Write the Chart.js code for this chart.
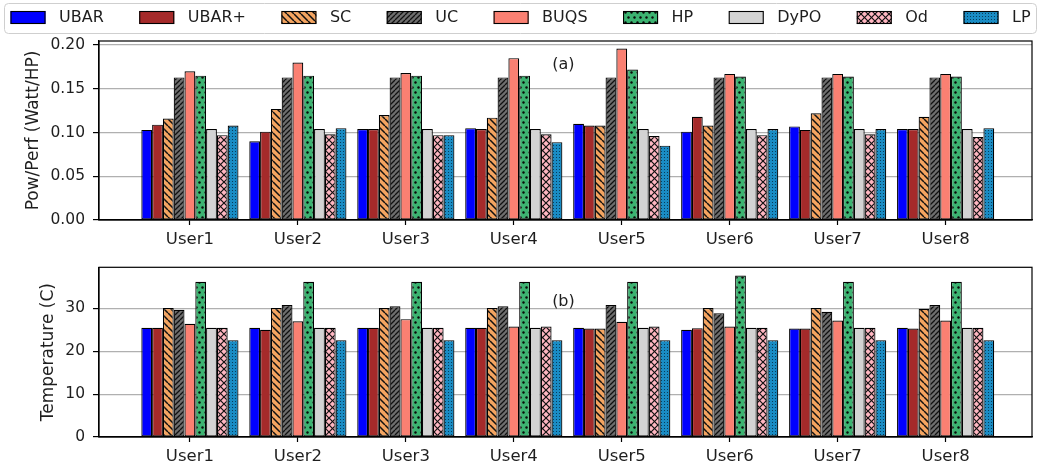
<!DOCTYPE html>
<html>
<head>
<meta charset="utf-8">
<script src="https://cdn.jsdelivr.net/npm/chart.js@4.4.1/dist/chart.umd.min.js"></script>
<style>
  html, body { margin: 0; padding: 0; background: #ffffff; }
  #wrap { position: relative; width: 1041px; height: 469px; overflow: hidden; }
  #perfChart { position: absolute; left: 0; top: 0; }
  #tempChart { position: absolute; left: 0; top: 250px; }
</style>
</head>
<body>
<div id="wrap">
  <canvas id="perfChart" width="1041" height="250"></canvas>
  <canvas id="tempChart" width="1041" height="219"></canvas>
</div>
<script>
// Categories and method names
const users = ['User1', 'User2', 'User3', 'User4', 'User5', 'User6', 'User7', 'User8'];
const methods = ['UBAR', 'UBAR+', 'SC', 'UC', 'BUQS', 'HP', 'DyPO', 'Od', 'LP'];

// (a) Power / performance ratio (Watt/HP)
const perfUBAR  = [0.103, 0.090, 0.104, 0.105, 0.110, 0.101, 0.107, 0.104];
const perfUBARp = [0.109, 0.101, 0.104, 0.104, 0.108, 0.118, 0.103, 0.104];
const perfSC    = [0.116, 0.127, 0.120, 0.117, 0.108, 0.108, 0.122, 0.118];
const perfUC    = [0.163, 0.163, 0.163, 0.163, 0.163, 0.163, 0.163, 0.163];
const perfBUQS  = [0.170, 0.180, 0.168, 0.185, 0.196, 0.167, 0.167, 0.167];
const perfHP    = [0.165, 0.165, 0.165, 0.165, 0.172, 0.164, 0.164, 0.164];
const perfDyPO  = [0.104, 0.104, 0.104, 0.104, 0.104, 0.104, 0.104, 0.104];
const perfOd    = [0.097, 0.098, 0.097, 0.098, 0.096, 0.097, 0.098, 0.095];
const perfLP    = [0.108, 0.105, 0.097, 0.089, 0.085, 0.104, 0.104, 0.105];

// (b) Temperature (C)
const tempUBAR  = [25.5, 25.5, 25.5, 25.5, 25.5, 25.0, 25.3, 25.5];
const tempUBARp = [25.5, 25.0, 25.5, 25.5, 25.3, 25.4, 25.3, 25.3];
const tempSC    = [30.1, 30.1, 30.1, 30.1, 25.3, 30.1, 30.1, 29.9];
const tempUC    = [29.7, 30.8, 30.5, 30.5, 30.8, 28.9, 29.2, 30.8];
const tempBUQS  = [26.4, 27.0, 27.5, 25.8, 26.9, 25.8, 27.2, 27.2];
const tempHP    = [36.2, 36.2, 36.2, 36.2, 36.2, 37.7, 36.2, 36.2];
const tempDyPO  = [25.5, 25.5, 25.5, 25.5, 25.5, 25.5, 25.5, 25.5];
const tempOd    = [25.5, 25.5, 25.5, 25.8, 25.8, 25.5, 25.5, 25.5];
const tempLP    = [22.6, 22.6, 22.6, 22.6, 22.6, 22.6, 22.6, 22.6];

// Y tick values
const perfTicks = [0, 0.05, 0.10, 0.15, 0.20];
const tempTicks = [0, 10, 20, 30];

Chart.defaults.font.family = '"DejaVu Sans", "Liberation Sans", sans-serif';
Chart.defaults.color = '#1e1e1e';

// ---- hatch fills ----
function tile(w, h, bg, draw) {
  const c = document.createElement('canvas');
  c.width = w; c.height = h;
  const g = c.getContext('2d');
  g.fillStyle = bg;
  g.fillRect(0, 0, w, h);
  draw(g, w, h);
  return g.createPattern(c, 'repeat');
}
function diag(g, w, h, dir, color, lw) {
  g.strokeStyle = color; g.lineWidth = lw;
  g.beginPath();
  for (let k = -1; k <= 1; k++) {
    if (dir > 0) { g.moveTo(k * w, h); g.lineTo(k * w + w, 0); }
    else { g.moveTo(k * w, 0); g.lineTo(k * w + w, h); }
  }
  g.stroke();
}
function dot(g, x, y, r, color) {
  g.fillStyle = color;
  g.beginPath(); g.arc(x, y, r, 0, Math.PI * 2); g.fill();
}

const fills = {
  'UBAR':  '#0000ff',
  'UBAR+': '#a52a2a',
  'SC':    tile(7, 7, '#f4a460', (g, w, h) => diag(g, w, h, -1, '#111', 1.5)),
  'UC':    tile(5, 5, '#6e6e6e', (g, w, h) => diag(g, w, h, 1, '#111', 1.3)),
  'BUQS':  '#fa8072',
  'HP':    tile(6, 10, '#3cb371', (g) => { dot(g, 1.5, 2.5, 1.2, '#0a0a0a'); dot(g, 4.5, 7.5, 1.2, '#0a0a0a'); }),
  'DyPO':  '#d3d3d3',
  'Od':    tile(7, 7, '#ffb6c1', (g, w, h) => { diag(g, w, h, 1, '#111', 1.2); diag(g, w, h, -1, '#111', 1.2); }),
  'LP':    tile(3, 3, '#1a8cc4', (g) => { g.fillStyle = '#083d5a'; g.fillRect(1, 1, 1, 1); })
};

function makeSets(series) {
  return methods.map((m, j) => ({
    label: m,
    data: series[j].map((v, i) => ({ x: i, y: v })),
    backgroundColor: fills[m],
    borderColor: '#000000',
    borderWidth: 1.2,
    borderSkipped: false,
    barPercentage: 1.0,
    categoryPercentage: 0.9
  }));
}

// ---- plugins ----
const frame = {
  id: 'frame',
  afterDraw(chart) {
    const a = chart.chartArea, ctx = chart.ctx;
    ctx.save();
    ctx.strokeStyle = '#000'; ctx.lineWidth = 1.2;
    ctx.strokeRect(a.left, a.top, a.right - a.left, a.bottom - a.top);
    ctx.restore();
  }
};

const panelTag = {
  id: 'panelTag',
  afterDraw(chart, args, opts) {
    const ctx = chart.ctx;
    const x = chart.scales.x.getPixelForValue(opts.at[0]);
    const y = chart.scales.y.getPixelForValue(opts.at[1]);
    ctx.save();
    ctx.font = '16px "DejaVu Sans"';
    ctx.fillStyle = '#1e1e1e';
    ctx.textAlign = 'center'; ctx.textBaseline = 'middle';
    ctx.fillText(opts.text, x, y);
    ctx.restore();
  }
};

const keyBox = {
  id: 'keyBox',
  afterDraw(chart) {
    const ctx = chart.ctx;
    ctx.save();
    // rounded frame
    ctx.strokeStyle = '#cfcfcf'; ctx.lineWidth = 1;
    ctx.beginPath();
    ctx.roundRect(4.5, 3.5, 1032, 30, 4);
    ctx.stroke();
    ctx.font = '16px "DejaVu Sans"';
    ctx.textBaseline = 'middle';
    let x = 10.5;
    chart.data.datasets.forEach(ds => {
      ctx.fillStyle = ds.backgroundColor;
      ctx.fillRect(x, 11, 35, 13);
      ctx.strokeStyle = '#000'; ctx.lineWidth = 1.1;
      ctx.strokeRect(x + 0.5, 11.5, 34, 12);
      ctx.fillStyle = '#1e1e1e';
      ctx.fillText(ds.label, x + 48.5, 18);
      x += 48.5 + ctx.measureText(ds.label).width + 35.5;
    });
    ctx.restore();
  }
};

function options(yMax, yTicks, title, titlePad, xHeight, fmt, padTop, tagAt, tagText) {
  return {
    responsive: false,
    animation: false,
    devicePixelRatio: 1,
    layout: { padding: { top: padTop, left: 0, right: 9, bottom: 0 } },
    plugins: {
      legend: { display: false },
      tooltip: { enabled: false },
      panelTag: { at: tagAt, text: tagText }
    },
    scales: {
      x: {
        type: 'linear',
        min: -0.842,
        max: 7.80,
        offset: false,
        afterBuildTicks: s => { s.ticks = users.map((u, i) => ({ value: i })); },
        afterFit: s => { s.height = xHeight; },
        ticks: {
          autoSkip: false, maxRotation: 0, padding: 5,
          font: { size: 16.5 }, color: '#1e1e1e',
          callback: v => users[v]
        },
        grid: { offset: false, drawOnChartArea: false, drawTicks: true, tickLength: 5, tickColor: '#000', tickWidth: 1.2 },
        border: { display: true, color: '#000', width: 1.2 }
      },
      y: {
        min: 0,
        max: yMax,
        z: 1,
        afterBuildTicks: s => { s.ticks = yTicks.map(v => ({ value: v })); },
        afterFit: s => { s.width = 99; },
        ticks: {
          padding: 8, font: { size: 15.5 }, color: '#1e1e1e',
          callback: fmt
        },
        grid: { color: '#b0b0b0', lineWidth: 1.2, drawTicks: true, tickLength: 6, tickColor: '#000', tickWidth: 1.2 },
        border: { display: true, color: '#000', width: 1.2 },
        title: { display: true, text: title, font: { size: 17 }, color: '#1e1e1e', padding: { top: titlePad, bottom: 0 } }
      }
    }
  };
}

new Chart(document.getElementById('perfChart'), {
  type: 'bar',
  data: { datasets: makeSets([perfUBAR, perfUBARp, perfSC, perfUC, perfBUQS, perfHP, perfDyPO, perfOd, perfLP]) },
  options: options(0.2046, perfTicks, 'Pow/Perf (Watt/HP)', 23, 30, v => v.toFixed(2), 41, [3.46, 0.177], '(a)'),
  plugins: [frame, panelTag, keyBox]
});

new Chart(document.getElementById('tempChart'), {
  type: 'bar',
  data: { datasets: makeSets([tempUBAR, tempUBARp, tempSC, tempUC, tempBUQS, tempHP, tempDyPO, tempOd, tempLP]) },
  options: options(39.6, tempTicks, 'Temperature (C)', 38, 32, v => String(v), 7, [3.46, 31.6], '(b)'),
  plugins: [frame, panelTag]
});
</script>
</body>
</html>
